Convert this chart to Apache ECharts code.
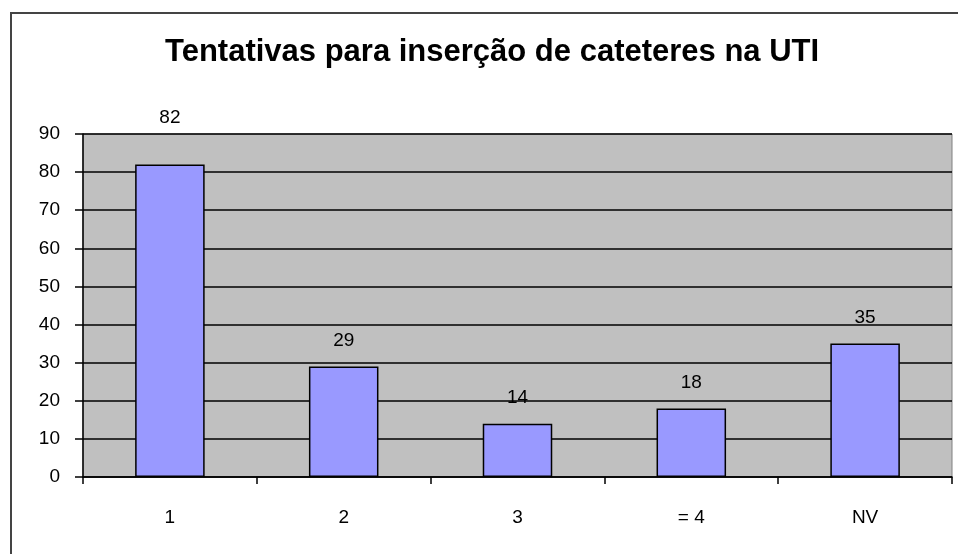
<!DOCTYPE html>
<html>
<head>
<meta charset="utf-8">
<style>
  html, body { margin: 0; padding: 0; background: #fff; }
  #chart { width: 958px; height: 554px; }
</style>
<script src="https://cdn.jsdelivr.net/npm/echarts@6/dist/echarts.min.js"></script>
</head>
<body>
<div id="chart"></div>
<script>
// dados do gráfico
var categorias = ['1', '2', '3', '= 4', 'NV'];
var tentativas = [82, 29, 14, 18, 35];
var yMin = 0, yMax = 90, yPasso = 10;

(function () {
  var myChart = echarts.init(document.getElementById('chart'));

  var fonte = '"Liberation Sans", Arial, sans-serif';

  var option = {
    animation: false,
    backgroundColor: '#fff',
    title: {
      text: 'Tentativas para inserção de cateteres na UTI',
      left: 160,
      top: 32,
      textStyle: {
        fontFamily: fonte,
        fontSize: 31,
        fontWeight: 'bold',
        color: '#000'
      }
    },
    // moldura externa do gráfico
    graphic: [{
      type: 'rect',
      shape: { x: 11, y: 13, width: 980, height: 580 },
      style: { fill: 'none', stroke: '#444', lineWidth: 2 },
      silent: true
    }],
    grid: {
      left: 83,
      right: 6,
      top: 134,
      bottom: 77,
      show: true,
      backgroundColor: '#c0c0c0',
      borderColor: '#808080',
      borderWidth: 1
    },
    xAxis: {
      type: 'category',
      data: categorias,
      axisLine: { lineStyle: { color: '#000', width: 1.5 } },
      axisTick: { show: true, length: 7, lineStyle: { color: '#000', width: 1.5 } },
      axisLabel: {
        margin: 31,
        fontFamily: fonte,
        fontSize: 19,
        color: '#000'
      }
    },
    yAxis: {
      type: 'value',
      min: yMin,
      max: yMax,
      interval: yPasso,
      axisLine: { show: true, lineStyle: { color: '#000', width: 1.5 } },
      axisTick: { show: true, length: 8, lineStyle: { color: '#000', width: 1.5 } },
      axisLabel: {
        margin: 23,
        fontFamily: fonte,
        fontSize: 19,
        color: '#000'
      },
      splitLine: { lineStyle: { color: '#000', width: 1.5 } }
    },
    series: [{
      type: 'bar',
      barWidth: '40%',
      data: tentativas.map(function (v, i) {
        // o rótulo do primeiro valor fica mais alto no original
        return i === 0 ? { value: v, label: { distance: 37 } } : v;
      }),
      itemStyle: {
        color: '#9999ff',
        borderColor: '#000',
        borderWidth: 1.5
      },
      label: {
        show: true,
        position: 'top',
        distance: 16,
        fontFamily: fonte,
        fontSize: 19,
        color: '#000'
      }
    }]
  };

  myChart.setOption(option);
})();
</script>
</body>
</html>
